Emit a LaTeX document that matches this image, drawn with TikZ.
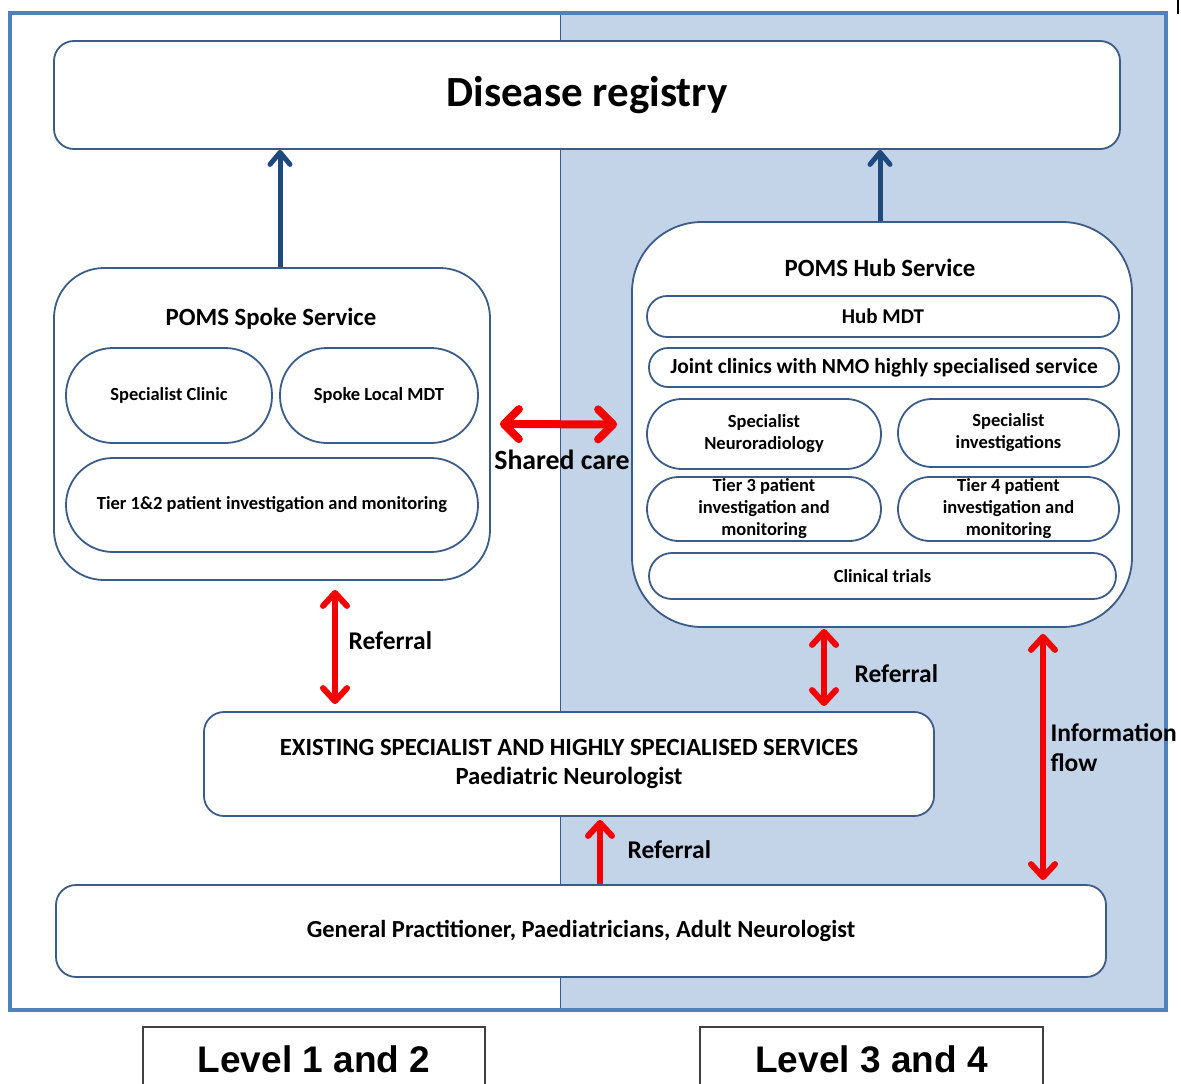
\documentclass[tikz,border=0pt]{standalone}
\usepackage{fontspec}
\setmainfont{Carlito}
\newfontfamily\levelfont{Liberation Sans}
\usetikzlibrary{arrows.meta,positioning,calc}

\definecolor{frameblue}{RGB}{79,129,189}
\definecolor{boxblue}{RGB}{60,92,135}
\definecolor{hubfill}{RGB}{195,211,232}
\definecolor{arrowblue}{RGB}{31,73,125}
\definecolor{arrowred}{RGB}{245,0,0}

\tikzset{
  box/.style={draw=boxblue, line width=1.8pt, fill=white, rounded corners=#1,
    inner sep=0pt, align=center, font=\bfseries\fontsize{18.5}{22}\selectfont},
  hubtext/.style={font=\bfseries\fontsize{18.5}{22}\selectfont},
  title/.style={font=\bfseries\fontsize{24.8}{28}\selectfont},
  lbl/.style={font=\bfseries\fontsize{25.5}{30}\selectfont, align=left},
  redarrow/.style={draw=arrowred, line width=6pt,
    arrows={Straight Barb[length=13pt,width=24pt,round]-Straight Barb[length=13pt,width=24pt,round]}},
  bluearrow/.style={draw=arrowblue, line width=5pt,
    arrows={-Straight Barb[length=12pt,width=20pt,round]}},
  levelbox/.style={draw=black!75, line width=1.3pt, fill=white, inner sep=0pt,
    minimum width=342pt, minimum height=65pt,
    font=\levelfont\bfseries\fontsize{37}{40}\selectfont}
}

\begin{document}
\begin{tikzpicture}[x=1pt, y=-1pt]
    \useasboundingbox (0,0) rectangle (1181,1084);

    \fill[hubfill] (560,13) rectangle (1166,1010);
    \draw[boxblue, line width=1pt] (560,13) -- (560,1010);
    \draw[frameblue, line width=4pt] (10,13) rectangle (1166,1010);
    \draw[black, line width=1.2pt] (1178,0) -- (1178,14);

    \node[box=20pt, minimum width=1066pt, minimum height=108pt,
      font=\bfseries\fontsize{43}{48}\selectfont] (registry) at (587,95) {Disease registry};

    \node[box=50pt, minimum width=436pt, minimum height=312pt] (spoke) at (272,424) {};
    \node[title] (spoketitle) at (271,319) {POMS Spoke Service};
    \node[box=47pt, minimum width=206pt, minimum height=95pt] (clinic) at (169,395.5) {Specialist Clinic};
    \node[box=47pt, minimum width=198pt, minimum height=95pt] (localmdt) at (379,395.5) {Spoke Local MDT};
    \node[box=47pt, minimum width=412pt, minimum height=94pt] (tieronetwo) at (272,505) {Tier 1\&2 patient investigation and monitoring};

    \node[box=70pt, minimum width=500pt, minimum height=405pt] (hub) at (882,424.5) {};
    \node[title] (hubtitle) at (880,268) {POMS Hub Service};
    \node[box=20pt, minimum width=472pt, minimum height=41pt,
      font=\bfseries\fontsize{21}{24}\selectfont] (hubmdt) at (883,316.5) {Hub MDT};
    \node[box=19pt, minimum width=470pt, minimum height=39pt,
      font=\bfseries\fontsize{21.5}{24}\selectfont] (joint) at (884,367.5) {Joint clinics with NMO highly specialised service};
    \node[box=35pt, minimum width=234pt, minimum height=70pt, hubtext] (neuro) at (764,434) {Specialist\\Neuroradiology};
    \node[box=34pt, minimum width=221pt, minimum height=68pt, hubtext] (invest) at (1008.5,433) {Specialist\\investigations};
    \node[box=32pt, minimum width=234pt, minimum height=64pt, hubtext] (tierthree) at (764,509) {Tier 3 patient\\investigation and\\monitoring};
    \node[box=32pt, minimum width=221pt, minimum height=64pt, hubtext] (tierfour) at (1008.5,509) {Tier 4 patient\\investigation and\\monitoring};
    \node[box=23pt, minimum width=467pt, minimum height=46pt] (trials) at (882.5,576) {Clinical trials};

    \node[box=20pt, minimum width=730pt, minimum height=104pt,
      font=\bfseries\fontsize{24.7}{29}\selectfont] (exist) at (569,764)
      {EXISTING SPECIALIST AND HIGHLY SPECIALISED SERVICES\\Paediatric Neurologist};
    \node[box=20pt, minimum width=1050pt, minimum height=92pt,
      font=\bfseries\fontsize{24.5}{28}\selectfont] (gp) at (581,931)
      {General Practitioner, Paediatricians, Adult Neurologist};

    \draw[bluearrow] ([xshift=8pt]spoke.north) -- ([xshift=8pt]spoke.north |- registry.south);
    \draw[bluearrow] ([xshift=-2pt]hub.north) -- ([xshift=-2pt]hub.north |- registry.south);

    \draw[redarrow, line width=8pt, arrows={Straight Barb[length=15pt,width=30pt,round]-Straight Barb[length=15pt,width=30pt,round]},
      shorten <=9pt, shorten >=14pt] (spoke.east) -- (hub.west);
    \node[font=\bfseries\fontsize{27.8}{32}\selectfont] (shared) at (562,460) {Shared care};

    \draw[redarrow, shorten <=9pt, shorten >=7pt] ([xshift=63pt]spoke.south) -- ([xshift=63pt]spoke.south |- exist.north);
    \node[lbl, anchor=west] (refone) at (345,641) {Referral};

    \draw[redarrow, shorten <=1pt, shorten >=5pt] ([xshift=-58pt]hub.south) -- ([xshift=-58pt]hub.south |- exist.north);
    \node[lbl, anchor=west] (reftwo) at (851,674) {Referral};

    \draw[redarrow, shorten <=6pt, shorten >=4pt] ([xshift=161pt]hub.south) -- ([xshift=161pt]hub.south |- gp.north);
    \node[lbl, anchor=north west] (info) at (1047,720) {Information\\flow};

    \draw[redarrow, arrows={-Straight Barb[length=13pt,width=24pt,round]}, shorten >=3pt]
      ([xshift=19pt]gp.north) -- ([xshift=19pt]gp.north |- exist.south);
    \node[lbl, anchor=west] (refthree) at (624,850) {Referral};

    \node[levelbox] (levelonetwo) at (314,1059.5) {Level 1 and 2};
    \node[levelbox, minimum width=343pt] (levelthreefour) at (871.5,1059.5) {Level 3 and 4};
\end{tikzpicture}
\end{document}
